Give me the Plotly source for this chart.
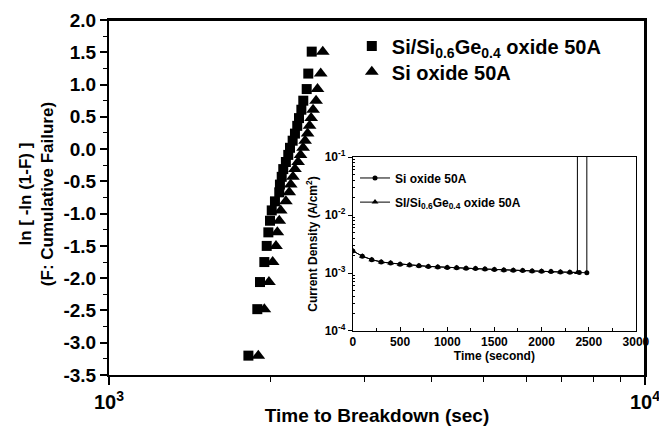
import plotly.graph_objects as go

# ---------------- main Weibull plot data ----------------
weibull_y = [-3.20, -2.48, -2.06, -1.75, -1.50, -1.29, -1.11, -0.95, -0.81, -0.67,
             -0.55, -0.43, -0.31, -0.20, -0.09, 0.02, 0.13, 0.24, 0.36, 0.48,
             0.61, 0.75, 0.93, 1.17, 1.51]
sige_time = [1820, 1891, 1913, 1949, 1969, 1983, 1997, 2012, 2040, 2078,
             2084, 2100, 2114, 2138, 2160, 2176, 2201, 2223, 2245, 2262,
             2285, 2304, 2338, 2354, 2389]
si_time = [1899, 1949, 1988, 2020, 2049, 2061, 2078, 2091, 2138, 2169,
           2183, 2204, 2223, 2253, 2277, 2302, 2322, 2347, 2367, 2383,
           2403, 2434, 2449, 2483, 2505]

main_xticks = [1000, 10000]
main_xticklabels = ["10<sup>3</sup>", "10<sup>4</sup>"]
main_xminor = [2000, 3000, 4000, 5000, 6000, 7000, 8000, 9000]
main_yticks = [-3.5, -3.0, -2.5, -2.0, -1.5, -1.0, -0.5, 0.0, 0.5, 1.0, 1.5, 2.0]
main_yticklabels = ["-3.5", "-3.0", "-2.5", "-2.0", "-1.5", "-1.0", "-0.5",
                    "0.0", "0.5", "1.0", "1.5", "2.0"]

# ---------------- inset: current density vs time ----------------
inset_time_si = [0, 100, 200, 300, 400, 500, 600, 700, 800, 900, 1000, 1100, 1200,
                 1300, 1400, 1500, 1600, 1700, 1800, 1900, 2000, 2100, 2200, 2300,
                 2400, 2480, 2480]
inset_j_si = [2.40e-3, 1.95e-3, 1.70e-3, 1.55e-3, 1.48e-3, 1.42e-3, 1.38e-3, 1.34e-3,
              1.30e-3, 1.27e-3, 1.25e-3, 1.23e-3, 1.21e-3, 1.19e-3, 1.17e-3, 1.15e-3,
              1.13e-3, 1.11e-3, 1.10e-3, 1.08e-3, 1.07e-3, 1.06e-3, 1.04e-3, 1.03e-3,
              1.02e-3, 1.01e-3, 1.0]
inset_time_sige = [0, 100, 200, 300, 400, 500, 600, 700, 800, 900, 1000, 1100, 1200,
                   1300, 1400, 1500, 1600, 1700, 1800, 1900, 2000, 2100, 2200, 2300,
                   2380, 2380]
inset_j_sige = [2.40e-3, 1.95e-3, 1.70e-3, 1.55e-3, 1.48e-3, 1.42e-3, 1.38e-3, 1.34e-3,
                1.30e-3, 1.27e-3, 1.25e-3, 1.23e-3, 1.21e-3, 1.19e-3, 1.17e-3, 1.15e-3,
                1.13e-3, 1.11e-3, 1.10e-3, 1.08e-3, 1.07e-3, 1.06e-3, 1.04e-3, 1.03e-3,
                1.02e-3, 1.0]
inset_xticks = [0, 500, 1000, 1500, 2000, 2500, 3000]
inset_xticklabels = ["0", "500", "1000", "1500", "2000", "2500", "3000"]
inset_yticks = [1e-4, 1e-3, 1e-2, 1e-1]
inset_yticklabels = ["10<sup>-4</sup>", "10<sup>-3</sup>", "10<sup>-2</sup>", "10<sup>-1</sup>"]
inset_yminor = [m * d for d in (1e-4, 1e-3, 1e-2) for m in (2, 3, 4, 5, 6, 7, 8, 9)]

FONT = "Liberation Sans, Arial, sans-serif"

fig = go.Figure()

fig.add_trace(go.Scatter(
    x=sige_time, y=weibull_y, mode="markers",
    name="<b>Si/Si<sub>0.6</sub>Ge<sub>0.4</sub> oxide 50A</b>",
    marker=dict(symbol="square", size=10, color="black"),
    legend="legend", showlegend=True))
fig.add_trace(go.Scatter(
    x=si_time, y=weibull_y, mode="markers",
    name="<b>Si oxide 50A</b>",
    marker=dict(symbol="triangle-up", size=12, color="black"),
    legend="legend3", showlegend=True))

fig.add_trace(go.Scatter(
    x=inset_time_si, y=inset_j_si, mode="lines+markers", xaxis="x2", yaxis="y2",
    name="<b>Si oxide 50A</b>",
    line=dict(color="black", width=1),
    marker=dict(symbol="circle", size=5, color="black"),
    legend="legend2", showlegend=True))
fig.add_trace(go.Scatter(
    x=inset_time_sige, y=inset_j_sige, mode="lines+markers", xaxis="x2", yaxis="y2",
    name="<b>Sl/Si<sub>0.6</sub>Ge<sub>0.4</sub> oxide 50A</b>",
    line=dict(color="black", width=1),
    marker=dict(symbol="triangle-up", size=6, color="black"),
    legend="legend4", showlegend=True))

# empty trace so the overlaying frame axes (top / right border) get drawn
fig.add_trace(go.Scatter(x=[], y=[], xaxis="x3", yaxis="y3", mode="markers",
                         showlegend=False, hoverinfo="skip"))

leg_common = dict(xanchor="left", yanchor="middle", bgcolor="rgba(0,0,0,0)",
                  borderwidth=0)

fig.update_layout(
    width=659, height=426,
    margin=dict(l=109, r=14, t=20, b=51),
    showlegend=True,
    paper_bgcolor="white", plot_bgcolor="white",
    font=dict(family=FONT, color="black"),
    xaxis=dict(
        type="log", range=[3, 4], domain=[0, 1], automargin=False,
        tickmode="array", tickvals=main_xticks, ticktext=main_xticklabels,
        ticks="outside", ticklen=8, tickwidth=1.5, tickcolor="black",
        ticklabeloverflow="allow",
        minor=dict(tickmode="array", tickvals=main_xminor, ticks="outside",
                   ticklen=5, tickwidth=1.2, tickcolor="black"),
        showline=True, linecolor="black", linewidth=2, mirror=True,
        showgrid=False, zeroline=False,
        tickfont=dict(size=20, family=FONT, weight="bold"),
        title=dict(text="<b>Time to Breakdown (sec)</b>",
                   font=dict(size=19, family=FONT), standoff=4),
    ),
    yaxis=dict(
        range=[-3.5, 2.0], domain=[0, 1], automargin=False,
        tickmode="array", tickvals=main_yticks, ticktext=main_yticklabels,
        ticks="outside", ticklen=7, tickwidth=1.5, tickcolor="black",
        minor=dict(dtick=0.25, tick0=0, ticks="outside", ticklen=4,
                   tickwidth=1.2, tickcolor="black"),
        showline=True, linecolor="black", linewidth=2, mirror=True,
        showgrid=False, zeroline=False,
        tickfont=dict(size=19, family=FONT, weight="bold"),
    ),
    # frame axes: only their lines are shown, on the top and right sides
    xaxis3=dict(
        type="log", range=[3, 4], overlaying="x", side="top", anchor="y3",
        automargin=False, showline=True, linecolor="black", linewidth=2,
        ticks="", showticklabels=False, showgrid=False, zeroline=False,
    ),
    yaxis3=dict(
        range=[-3.5, 2.0], overlaying="y", side="right", anchor="x3",
        automargin=False, showline=True, linecolor="black", linewidth=2,
        ticks="", showticklabels=False, showgrid=False, zeroline=False,
    ),
    xaxis2=dict(
        domain=[0.455, 0.983], anchor="y2", range=[0, 3000], automargin=False,
        tickmode="array", tickvals=inset_xticks, ticktext=inset_xticklabels,
        ticks="inside", ticklen=4, tickcolor="black",
        ticklabeloverflow="allow",
        minor=dict(dtick=250, tick0=0, ticks="inside", ticklen=3, tickcolor="black"),
        showline=True, linecolor="black", linewidth=1, mirror=True,
        showgrid=False, zeroline=False,
        tickfont=dict(size=12, family=FONT, weight="bold"),
        title=dict(text="<b>Time (second)</b>", font=dict(size=12, family=FONT),
                   standoff=2),
    ),
    yaxis2=dict(
        type="log", domain=[0.124, 0.614], anchor="x2", range=[-4, -1],
        automargin=False,
        tickmode="array", tickvals=inset_yticks, ticktext=inset_yticklabels,
        ticks="outside", ticklen=4, tickcolor="black",
        minor=dict(tickmode="array", tickvals=inset_yminor, ticks="inside",
                   ticklen=2, tickcolor="black"),
        showline=True, linecolor="black", linewidth=1, mirror=True,
        showgrid=False, zeroline=False,
        tickfont=dict(size=12, family=FONT, weight="bold"),
        title=dict(text="<b>Current Density (A/cm<sup>2</sup>)</b>",
                   font=dict(size=12, family=FONT), standoff=4),
    ),
    legend=dict(x=0.453, y=0.927, font=dict(size=20, family=FONT), **leg_common),
    legend3=dict(x=0.453, y=0.854, font=dict(size=20, family=FONT), **leg_common),
    legend2=dict(x=0.459, y=0.555, font=dict(size=12, family=FONT), **leg_common),
    legend4=dict(x=0.459, y=0.487, font=dict(size=12, family=FONT), **leg_common),
    shapes=[
        dict(type="line", xref="paper", yref="paper", x0=0, x1=1, y0=1, y1=1,
             line=dict(color="black", width=2), layer="above"),
        dict(type="line", xref="paper", yref="paper", x0=1, x1=1, y0=0, y1=1,
             line=dict(color="black", width=2), layer="above"),
    ],
    annotations=[
        dict(text="<b>ln [ -ln (1-F) ]<br>(F: Cumulative Failure)</b>",
             xref="paper", yref="paper", x=-0.134, y=0.51,
             xanchor="center", yanchor="middle", textangle=-90, showarrow=False,
             font=dict(size=17, family=FONT)),
    ],
)

# remove the default page margin so the 659x426 figure fills the window exactly
fig.write_html(
    "out.html",
    config={"displayModeBar": False},
    post_script="document.body.style.margin='0';"
                "document.documentElement.style.overflow='hidden';"
                "document.body.style.overflow='hidden';",
)
